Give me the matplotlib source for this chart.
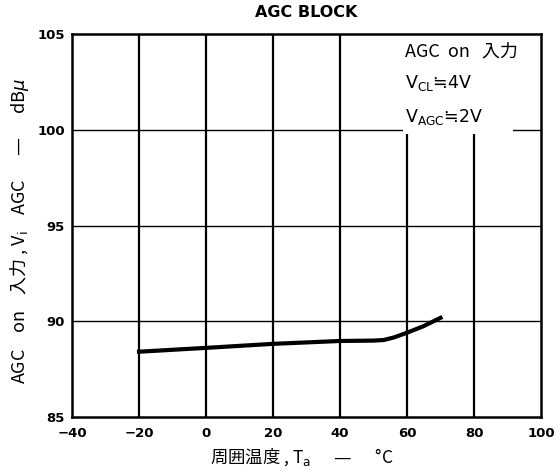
import matplotlib
matplotlib.use("Agg")
import matplotlib.pyplot as plt
from matplotlib.patches import Rectangle

plt.rcParams['font.family'] = ['DejaVu Sans', 'Noto Sans CJK JP']
plt.rcParams['mathtext.fontset'] = 'dejavusans'
CJK = ['Noto Sans CJK JP', 'DejaVu Sans']

temp = [-20, 0, 20, 40, 50, 53, 56, 60, 65, 70]
agc_in = [88.41, 88.61, 88.82, 88.97, 88.99, 89.02, 89.15, 89.4, 89.75, 90.18]

xticks = [-40, -20, 0, 20, 40, 60, 80, 100]
yticks = [85, 90, 95, 100, 105]

fig = plt.figure(figsize=(5.54, 4.75), dpi=100)
ax = fig.add_axes([0.130, 0.1221, 0.8466, 0.8063])

ax.set_xlim(-40, 100)
ax.set_ylim(85, 105)
ax.set_xticks(xticks)
ax.set_yticks(yticks)
ax.set_xticklabels([("−%d" % -t) if t < 0 else str(t) for t in xticks],
                   fontsize=9.5, fontweight='bold')
ax.set_yticklabels([str(t) for t in yticks], fontsize=9.5, fontweight='bold')
ax.tick_params(axis='x', length=0, pad=7)
ax.tick_params(axis='y', length=0, pad=5)

for x in xticks[1:-1]:
    ax.axvline(x, color='black', lw=1.6, zorder=1)
for y in yticks[1:-1]:
    ax.axhline(y, color='black', lw=1.0, zorder=1)
for s in ax.spines.values():
    s.set_linewidth(1.8)
    s.set_zorder(5)

# white area behind the condition text (hides grid there)
ax.add_patch(Rectangle((58.8, 99.8), 32.8, 5.2, facecolor='white',
                       edgecolor='none', zorder=2))

ax.plot(temp, agc_in, color='black', lw=3, zorder=3)

ax.text(0.5, 1.037, "AGC BLOCK", transform=ax.transAxes, ha='center',
        va='bottom', fontsize=11.5, fontweight='bold')

ax.text(59.4, 104.06, "AGC  on   入力", ha='left', va='center',
        fontsize=13, zorder=4, family=CJK)
ax.text(59.4, 102.44, "V$_{\\mathrm{CL}}$≒4V", ha='left', va='center',
        fontsize=12.5, zorder=4, family=['DejaVu Sans'])
ax.text(59.4, 100.67, "V$_{\\mathrm{AGC}}$≒2V", ha='left', va='center',
        fontsize=12.5, zorder=4, family=['DejaVu Sans'])

ax.set_xlabel("周囲温度 , T$_{\\mathrm{a}}$      —      °C", fontsize=12.5,
              family=CJK)
ax.set_ylabel("AGC    on    入力 , V$_{\\mathrm{i}}$    AGC      —      dB$\\mu$",
              fontsize=13, family=CJK)
ax.xaxis.set_label_coords(0.49, -0.104)
ax.xaxis.label.set_va('center')
ax.yaxis.set_label_coords(-0.111, 0.486)
ax.yaxis.label.set_va('center')

fig.savefig("out.png", dpi=100)
